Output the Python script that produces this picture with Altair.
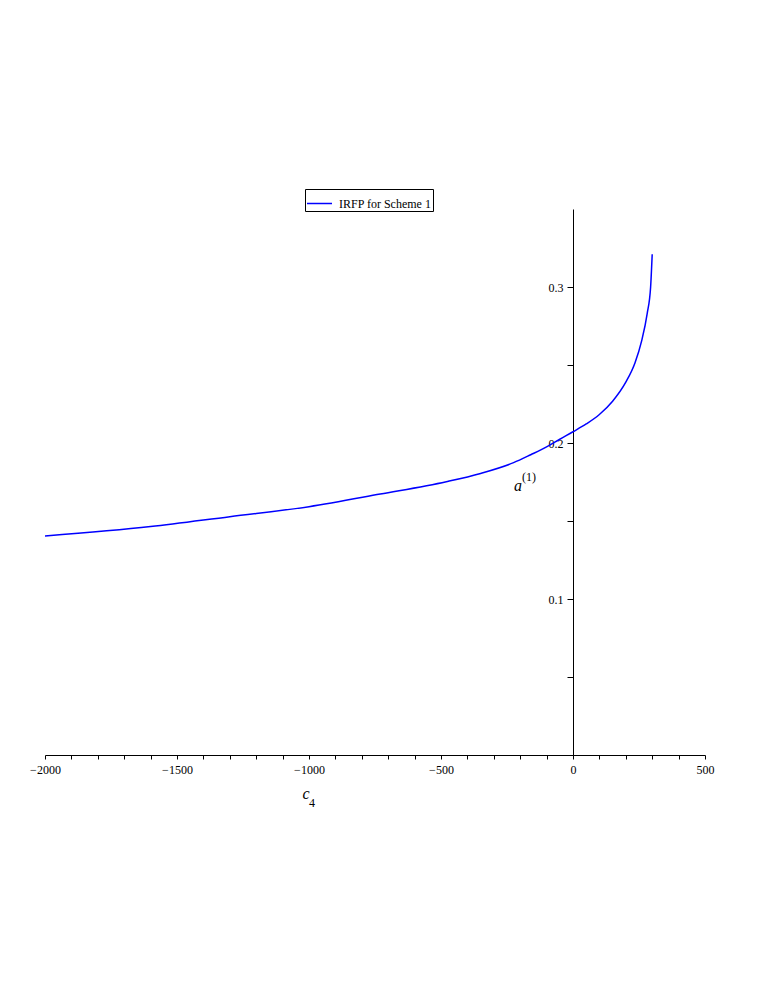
import altair as alt
import pandas as pd

# data
c4 = [-2000, -1600, -1300, -1000, -730, -480, -350, -225, -160, -100, -50,
      0, 50, 100, 150, 200, 235, 260, 281, 294, 300]
a1 = [0.1404, 0.1464, 0.1528, 0.1592, 0.1673, 0.1752, 0.1805, 0.1874, 0.1925, 0.1975, 0.2024,
      0.2072, 0.2122, 0.2183, 0.2268, 0.2390, 0.2515, 0.2655, 0.283, 0.300, 0.321]
series_name = "IRFP for Scheme 1"
x_ticks = list(range(-2000, 501, 100))
y_ticks = [0.05, 0.1, 0.15, 0.2, 0.25, 0.3]

df = pd.DataFrame({"c4": c4, "a1": a1, "s": [series_name] * len(c4)})

FONT = "Liberation Serif"
W, H = 660, 546

line = alt.Chart(df).mark_line(strokeWidth=1.5, interpolate="monotone").encode(
    x=alt.X("c4:Q",
            scale=alt.Scale(domain=[-2000, 500], nice=False, zero=False),
            axis=alt.Axis(values=x_ticks, title=None, grid=False, format="d",
                          labelExpr="datum.value % 500 == 0 ? datum.label : ''",
                          tickSize=4, labelPadding=5, labelFontSize=12,
                          labelFont=FONT, domainColor="black", tickColor="black",
                          labelColor="black", labelFlush=False)),
    y=alt.Y("a1:Q",
            scale=alt.Scale(domain=[0, 0.35], nice=False),
            axis=alt.Axis(values=y_ticks, title=None, grid=False, offset=-528,
                          labelExpr="(round(datum.value*100) % 10 == 0) ? datum.label : ''",
                          tickSize=6, labelPadding=4, labelFontSize=12,
                          labelFont=FONT, domainColor="black", tickColor="black",
                          labelColor="black", format=".1f")),
    color=alt.Color("s:N", scale=alt.Scale(range=["#0000ff"]),
                    legend=alt.Legend(title=None, orient="none", legendX=260, legendY=-20,
                                      symbolType="stroke", symbolSize=625,
                                      symbolStrokeWidth=1.5, labelFont=FONT,
                                      labelFontSize=12, labelColor="black",
                                      strokeColor="black", padding=1,
                                      fillColor="white", labelOffset=6)),
)

c_lab = alt.Chart(pd.DataFrame({"t": ["c"]})).mark_text(
    font=FONT, fontSize=16, fontStyle="italic", align="center", baseline="alphabetic",
    color="black").encode(text="t:N", x=alt.value(261), y=alt.value(590))
c_sub = alt.Chart(pd.DataFrame({"t": ["4"]})).mark_text(
    font=FONT, fontSize=12, align="center", baseline="alphabetic",
    color="black").encode(text="t:N", x=alt.value(267), y=alt.value(598))
a_lab = alt.Chart(pd.DataFrame({"t": ["a"]})).mark_text(
    font=FONT, fontSize=16, fontStyle="italic", align="center", baseline="alphabetic",
    color="black").encode(text="t:N", x=alt.value(473), y=alt.value(282))
a_sup = alt.Chart(pd.DataFrame({"t": ["(1)"]})).mark_text(
    font=FONT, fontSize=12, align="left", baseline="alphabetic",
    color="black").encode(text="t:N", x=alt.value(477), y=alt.value(272))

chart = alt.layer(line, c_lab, c_sub, a_lab, a_sup).properties(
    width=W, height=H,
    background="white",
    autosize=alt.AutoSizeParams(type="none"),
    padding={"left": 37, "top": 201, "right": 52, "bottom": 219},
).configure_view(strokeWidth=0, stroke="transparent")

chart.save("out.html", embed_options={"renderer": "svg", "actions": False})
